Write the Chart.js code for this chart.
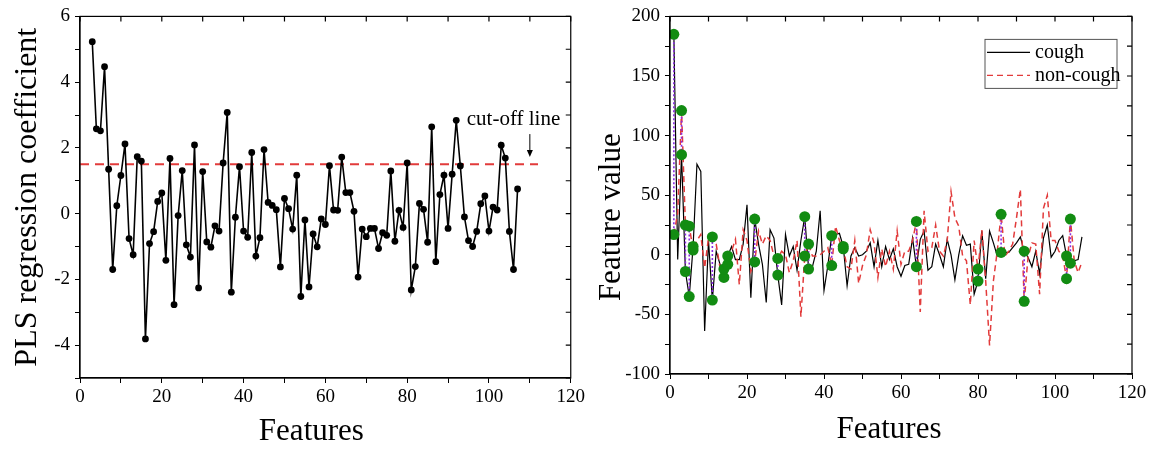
<!DOCTYPE html>
<html>
<head>
<meta charset="utf-8">
<script src="https://cdn.jsdelivr.net/npm/chart.js@4.4.1/dist/chart.umd.min.js"></script>
<style>
    html, body { margin: 0; padding: 0; background: #fff; }
    #wrap { position: relative; width: 1153px; height: 450px; }
    #left { position: absolute; left: 0; top: 0; }
    #right { position: absolute; left: 580px; top: 0; }
</style>
</head>
<body>
<div id="wrap">
    <canvas id="left" width="588" height="450"></canvas>
    <canvas id="right" width="573" height="450"></canvas>
</div>
<script>
// Left panel: PLS regression coefficient, features 3..107
const plsStart = 3;
const plsCoef = [
    5.23, 2.58, 2.52, 4.47, 1.35, -1.70, 0.24, 1.16, 2.12, -0.76,
    -1.25, 1.73, 1.60, -3.81, -0.91, -0.55, 0.37, 0.63, -1.42, 1.68,
    -2.77, -0.06, 1.31, -0.95, -1.32, 2.09, -2.26, 1.28, -0.86, -1.02,
    -0.37, -0.53, 1.54, 3.08, -2.39, -0.11, 1.43, -0.53, -0.72, 1.86,
    -1.29, -0.73, 1.95, 0.34, 0.25, 0.12, -1.62, 0.46, 0.15, -0.47,
    1.17, -2.52, -0.19, -2.23, -0.62, -1.01, -0.16, -0.33, 1.46, 0.11,
    0.10, 1.72, 0.64, 0.64, 0.07, -1.93, -0.47, -0.70, -0.45, -0.45,
    -1.06, -0.58, -0.66, 1.30, -0.84, 0.10, -0.42, 1.54, -2.32, -1.61,
    0.31, 0.13, -0.87, 2.64, -1.46, 0.58, 1.17, -0.45, 1.20, 2.84,
    1.45, -0.10, -0.82, -1.00, -0.54, 0.30, 0.54, -0.53, 0.20, 0.11,
    2.08, 1.69, -0.54, -1.70, 0.75
];
const cutoffValue = 1.5;
const cutoffRange = [0, 112];

// Right panel: feature values, features 1..107
const featStart = 1;
const coughValues = [
    185, -4, 84, -14, -35, 7, 76, 70, -64, 12,
    -38, 3, -8, -19, -1, 7, -4, -4, 9, 42,
    -36, 30, 9, -8, -40, 21, 14, -17, -42, 17,
    -1, 7, -13, 12, 32, -12, -10, 3, 37, -30,
    -9, 16, 17, 18, 7, -26, -1, 6, -1, 0,
    3, 10, -10, 12, -10, 7, -4, 5, -10, -18,
    -9, -8, 14, -10, 13, 20, -13, -10, 9, 0,
    -10, 13, 0, -21, 0, 16, 8, 9, -33, -22,
    20, -20, 20, 10, -1, 2, 2, 2, 6, 10,
    15, 3, -2, -10, 3, -16, 14, 25, -2, 3,
    12, 16, -1, -7, -5, -4, 15
];
const nonCoughValues = [
    17, 35, 121, 25, 24, 4, 12, 17, -11, 14,
    15, 9, -11, -12, -8, 3, 13, -25, 21, 12,
    -14, -6, 20, 9, 16, 12, -1, -3, 3, 0,
    -15, -5, 12, -52, -1, 9, -1, -1, 0, 3,
    6, -9, 24, 12, 5, -10, -12, 12, -24, -9,
    0, 21, 10, -19, 5, -10, 3, -12, 20, -8,
    3, 3, 12, 28, -48, 37, 3, 6, 25, 3,
    -1, 12, 53, 31, 24, -1, -5, -42, 12, -12,
    21, -22, -76, -22, 3, 34, -1, 3, 9, 31,
    55, -39, -2, 10, 9, -33, 39, 50, 12, 12,
    3, -1, -20, 30, -5, -15, -6
];
// features marked with green dots (cough and non-cough value joined)
const selectedFeatures = [1, 3, 4, 5, 6, 11, 14, 15, 22, 28, 35, 36, 42, 45, 64, 80, 86, 92, 103, 104];

Chart.defaults.font.family = '"Liberation Serif", "Times New Roman", serif';
Chart.defaults.color = '#000';

// frame, inward ticks on top and right, axis titles
const framePlugin = {
    id: 'frame',
    afterDraw(chart, args, opts) {
        const { ctx, chartArea: a, scales: { x, y } } = chart;
        ctx.save();
        ctx.strokeStyle = '#000';
        ctx.lineWidth = 1.2;
        ctx.strokeRect(a.left, a.top, a.right - a.left, a.bottom - a.top);
        ctx.beginPath();
        x.ticks.forEach(t => {
            const px = x.getPixelForValue(t.value);
            ctx.moveTo(px, a.top);
            ctx.lineTo(px, a.top + 5);
        });
        y.ticks.forEach(t => {
            const py = y.getPixelForValue(t.value);
            ctx.moveTo(a.right, py);
            ctx.lineTo(a.right - 5, py);
        });
        ctx.stroke();

        // titles
        ctx.fillStyle = '#000';
        ctx.textAlign = 'center';
        ctx.textBaseline = 'middle';
        ctx.font = opts.xSize + 'px "Liberation Serif"';
        ctx.fillText(opts.xTitle, (a.left + a.right) / 2 + opts.xdx, opts.xy);
        ctx.translate(opts.yx, (a.top + a.bottom) / 2 + opts.ydy);
        ctx.rotate(-Math.PI / 2);
        ctx.font = opts.ySize + 'px "Liberation Serif"';
        ctx.fillText(opts.yTitle, 0, 0);
        ctx.restore();
    }
};

function axisX(max, height) {
    return {
        type: 'linear', min: 0, max: max,
        border: { color: '#000', width: 1.2 },
        grid: { drawOnChartArea: false, tickLength: 5, color: '#000', lineWidth: 1 },
        ticks: {
            stepSize: 10, autoSkip: false, maxRotation: 0, padding: 3,
            font: { size: 19 },
            callback: v => (v % 20 === 0 ? v : '')
        },
        afterFit: s => { s.height = height; }
    };
}

function axisY(min, max, step, labelEvery, width) {
    return {
        type: 'linear', min: min, max: max,
        border: { color: '#000', width: 1.2 },
        grid: { drawOnChartArea: false, tickLength: 5, color: '#000', lineWidth: 1 },
        ticks: {
            stepSize: step, autoSkip: false, padding: 5,
            font: { size: 19 },
            callback: v => (v % labelEvery === 0 ? v : '')
        },
        afterFit: s => { s.width = width; }
    };
}

// ---- left chart ----
const cutoffLabel = {
    id: 'cutoffLabel',
    afterDatasetsDraw(chart) {
        const { ctx, scales: { x, y } } = chart;
        ctx.save();
        ctx.fillStyle = '#000';
        ctx.font = '21px "Liberation Serif"';
        ctx.textAlign = 'center';
        ctx.textBaseline = 'middle';
        ctx.fillText('cut-off line', x.getPixelForValue(106), y.getPixelForValue(2.85));
        const ax = x.getPixelForValue(110);
        const y1 = y.getPixelForValue(2.42);
        const y2 = y.getPixelForValue(1.72);
        ctx.strokeStyle = '#000';
        ctx.lineWidth = 1;
        ctx.beginPath();
        ctx.moveTo(ax, y1);
        ctx.lineTo(ax, y2 - 6);
        ctx.stroke();
        ctx.beginPath();
        ctx.moveTo(ax - 3, y2 - 7);
        ctx.lineTo(ax + 3, y2 - 7);
        ctx.lineTo(ax, y2);
        ctx.closePath();
        ctx.fill();
        ctx.restore();
    }
};

new Chart(document.getElementById('left'), {
    type: 'line',
    data: {
        datasets: [
            {
                label: 'PLS',
                data: plsCoef.map((v, i) => ({ x: plsStart + i, y: v })),
                borderColor: '#000', borderWidth: 1.6,
                pointRadius: 3.4, pointBackgroundColor: '#000', pointBorderWidth: 0,
                tension: 0, order: 1
            },
            {
                label: 'cut-off',
                data: cutoffRange.map(x => ({ x: x, y: cutoffValue })),
                borderColor: '#e23b3b', borderWidth: 2, borderDash: [9, 6],
                pointRadius: 0, order: 2
            }
        ]
    },
    options: {
        responsive: false, animation: false,
        layout: { padding: { left: 0, right: 10, top: 14, bottom: 0 } },
        plugins: {
            legend: { display: false }, tooltip: { enabled: false },
            frame: { xTitle: 'Features', xSize: 31, xdx: -14, xy: 432, yTitle: 'PLS regression coefficient', ySize: 32, yx: 28, ydy: 0 }
        },
        scales: {
            x: axisX(120, 72),
            y: axisY(-5, 6, 1, 2, 80)
        }
    },
    plugins: [framePlugin, cutoffLabel]
});

// ---- right chart ----
const boxLegend = {
    id: 'boxLegend',
    afterDraw(chart) {
        const { ctx, chartArea: a } = chart;
        const bx = a.right - 147, by = a.top + 23, bw = 132, bh = 49;
        ctx.save();
        ctx.strokeStyle = '#555';
        ctx.lineWidth = 1;
        ctx.strokeRect(bx, by, bw, bh);
        const items = [
            { text: 'cough', color: '#000', dash: [] },
            { text: 'non-cough', color: '#e23b3b', dash: [6, 4] }
        ];
        ctx.font = '20px "Liberation Serif"';
        ctx.textBaseline = 'middle';
        ctx.fillStyle = '#000';
        items.forEach((it, i) => {
            const ly = by + 13 + i * 23;
            ctx.beginPath();
            ctx.setLineDash(it.dash);
            ctx.strokeStyle = it.color;
            ctx.lineWidth = 1.4;
            ctx.moveTo(bx + 2, ly);
            ctx.lineTo(bx + 45, ly);
            ctx.stroke();
            ctx.setLineDash([]);
            ctx.fillText(it.text, bx + 50, ly);
        });
        ctx.restore();
    }
};

const greenDots = [];
const joinLines = [];
selectedFeatures.forEach(f => {
    const c = coughValues[f - featStart];
    const n = nonCoughValues[f - featStart];
    greenDots.push({ x: f, y: c }, { x: f, y: n });
    joinLines.push({ x: f, y: c }, { x: f, y: n }, { x: f, y: null });
});

new Chart(document.getElementById('right'), {
    type: 'line',
    data: {
        datasets: [
            {
                label: 'selected',
                type: 'scatter',
                data: greenDots,
                pointRadius: 5.5, pointBackgroundColor: '#128c12', pointBorderWidth: 0,
                showLine: false, order: 0
            },
            {
                label: 'join',
                data: joinLines,
                borderColor: '#8a2be2', borderWidth: 1.6, borderDash: [2, 2],
                pointRadius: 0, spanGaps: false, order: 1
            },
            {
                label: 'non-cough',
                data: nonCoughValues.map((v, i) => ({ x: featStart + i, y: v })),
                borderColor: '#e23b3b', borderWidth: 1.5, borderDash: [6, 4],
                pointRadius: 0, tension: 0, order: 2
            },
            {
                label: 'cough',
                data: coughValues.map((v, i) => ({ x: featStart + i, y: v })),
                borderColor: '#000', borderWidth: 1.2,
                pointRadius: 0, tension: 0, order: 3
            }
        ]
    },
    options: {
        responsive: false, animation: false,
        layout: { padding: { left: 0, right: 21, top: 14, bottom: 0 } },
        plugins: {
            legend: { display: false }, tooltip: { enabled: false },
            frame: { xTitle: 'Features', xSize: 31, xdx: -12, xy: 430, yTitle: 'Feature value', ySize: 31, yx: 32, ydy: 22 }
        },
        scales: {
            x: axisX(120, 76),
            y: axisY(-100, 200, 25, 50, 90)
        }
    },
    plugins: [framePlugin, boxLegend]
});
</script>
</body>
</html>
